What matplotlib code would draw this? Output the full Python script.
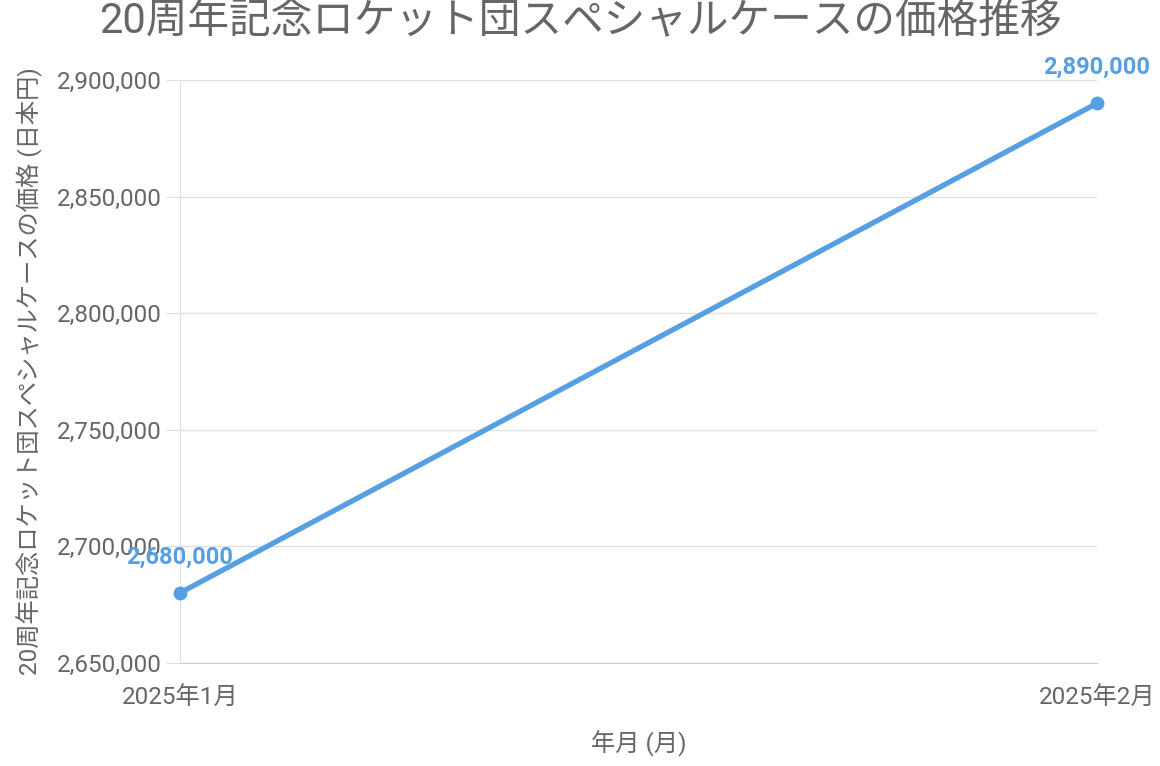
import matplotlib
matplotlib.use("Agg")
import matplotlib.pyplot as plt
from matplotlib.ticker import FuncFormatter

plt.rcParams['font.family'] = ['Roboto', 'Noto Sans CJK JP', 'DejaVu Sans']

# --- data ---
months = ['2025年1月', '2025年2月']
prices = [2680000, 2890000]

line_color = '#569FE3'
text_color = '#666666'
grid_color = '#e0e0e0'

fig = plt.figure(figsize=(11.6, 7.66), dpi=100)
ax = fig.add_axes([0.155, 0.1345, 0.7907, 0.7611])

x = list(range(len(months)))
ax.plot(x, prices, color=line_color, linewidth=3.8, marker='o', markersize=9,
        solid_capstyle='round', zorder=3, clip_on=False)

for xi, p in zip(x, prices):
    ax.annotate(f'{p:,}', (xi, p), xytext=(0, 26), textcoords='offset points',
                ha='center', va='center', color=line_color, fontsize=17,
                fontweight='bold', zorder=4)

ax.set_xlim(0, 1)
ax.set_ylim(2650000, 2900000)
ax.set_yticks(range(2650000, 2900001, 50000))
ax.yaxis.set_major_formatter(FuncFormatter(lambda v, _: f'{int(v):,}'))
ax.set_xticks(x)
ax.set_xticklabels(months)

ax.grid(axis='y', color=grid_color, linewidth=1)
ax.set_axisbelow(True)
for side in ['top', 'right']:
    ax.spines[side].set_visible(False)
ax.spines['left'].set_color(grid_color)
ax.spines['bottom'].set_color('#cccccc')
ax.tick_params(axis='y', colors=text_color, labelsize=17.5, length=10,
               color=grid_color, pad=3)
ax.tick_params(axis='x', colors=text_color, labelsize=17.5, length=0, pad=17)

ax.set_xlabel('年月 (月)', color=text_color, fontsize=17.5, labelpad=15)
ax.set_ylabel('20周年記念ロケット団スペシャルケースの価格 (日本円)', color=text_color,
              fontsize=17.5, labelpad=10)
fig.text(0.5, 1 - 22 / 766, '20周年記念ロケット団スペシャルケースの価格推移',
         color=text_color, fontsize=30, ha='center', va='center')

fig.savefig('out.png', dpi=100)
